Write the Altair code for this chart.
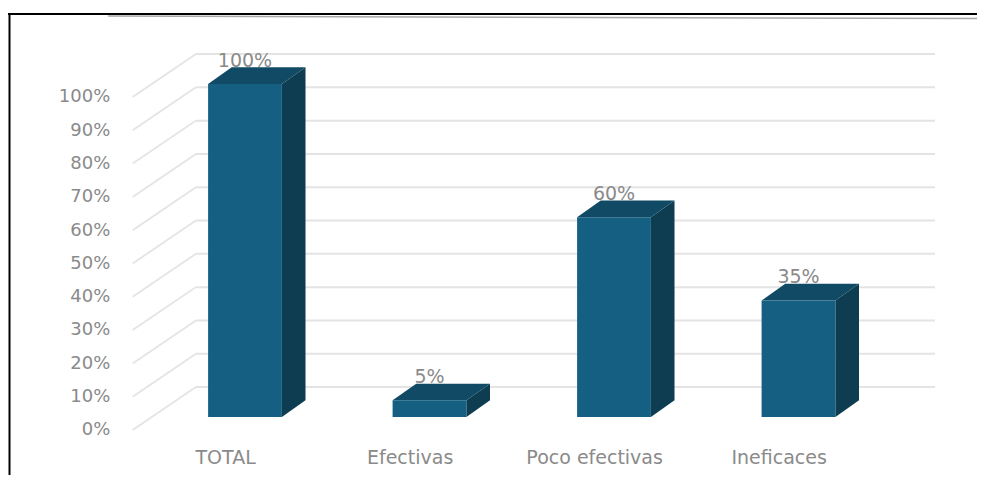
import altair as alt
import pandas as pd

categories = ["TOTAL", "Efectivas", "Poco efectivas", "Ineficaces"]
values = [100, 5, 60, 35]
value_labels = ["100%", "5%", "60%", "35%"]
ticks = [0, 10, 20, 30, 40, 50, 60, 70, 80, 90, 100]
tick_labels = ["0%", "10%", "20%", "30%", "40%", "50%", "60%", "70%", "80%", "90%", "100%"]

W, H = 969, 467
X0_PX, STEP_PX = 237.0, 184.5   # bar centre of first category, category step
Y0_PX, UNIT_PX = 409.0, 3.33    # y of value 0 on the front plane, pixels per percent

x_scale = alt.Scale(domain=[-X0_PX / STEP_PX, (W - X0_PX) / STEP_PX], range=[0, W], nice=False, zero=False)
y_scale = alt.Scale(domain=[-(H - Y0_PX) / UNIT_PX, Y0_PX / UNIT_PX], range=[H, 0], nice=False, zero=False)
X = lambda f="x": alt.X(f"{f}:Q", scale=x_scale, axis=None)
Y = lambda f="y": alt.Y(f"{f}:Q", scale=y_scale, axis=None)

half = 0.2       # half bar width, categories
dx, dy = 0.128, 5.0   # bar depth offset
wall_left, wall_back = -0.609, -0.266
wall_front_dy, wall_back_dy = -3.9, 9.0
wall_right = 3.74

GRID = "#e4e4e4"
FRONT, TOP, SIDE = "#156082", "#114a64", "#0e3d51"
TEXT = "#8a8a8a"
FONT = "DejaVu Sans"

back = pd.DataFrame({"x": wall_back, "x2": wall_right, "y": [t + wall_back_dy for t in ticks]})
diag = pd.DataFrame(
    [{"t": t, "x": wall_left, "y": t + wall_front_dy} for t in ticks]
    + [{"t": t, "x": wall_back, "y": t + wall_back_dy} for t in ticks]
)
front = pd.DataFrame([
    {"x": i - half, "x2": i + half, "y": 0, "y2": v} for i, v in enumerate(values)
])
side, top = [], []
for i, v in enumerate(values):
    l, r = i - half, i + half
    side += [
        {"b": i, "x": r, "y": v, "y2": 0},
        {"b": i, "x": r + dx, "y": v + dy, "y2": dy},
    ]
    top += [
        {"b": i, "x": l, "y": v, "y2": v},
        {"b": i, "x": l + dx, "y": v + dy, "y2": v},
        {"b": i, "x": r, "y": v + dy, "y2": v},
        {"b": i, "x": r + dx, "y": v + dy, "y2": v + dy},
    ]
side, top = pd.DataFrame(side), pd.DataFrame(top)

val_txt = pd.DataFrame({"x": range(4), "y": [v + 6.9 for v in values], "t": value_labels})
cat_txt = pd.DataFrame({"x": [i - 0.105 for i in range(4)], "y": -12.3, "t": categories})
tick_txt = pd.DataFrame({"x": -0.73, "y": [t - 4.0 for t in ticks], "t": tick_labels})

one = pd.DataFrame({"a": [0]})
layers = [
    alt.Chart(back).mark_rule(color=GRID, strokeWidth=2).encode(X(), x2="x2:Q", y=Y()),
    alt.Chart(diag).mark_line(color=GRID, strokeWidth=1.8).encode(X(), Y(), detail="t:N"),
    alt.Chart(side).mark_area(color=SIDE, orient="vertical").encode(X(), Y(), y2="y2:Q", detail="b:N"),
    alt.Chart(top).mark_area(color=TOP, orient="vertical").encode(X(), Y(), y2="y2:Q", detail="b:N"),
    alt.Chart(front).mark_rect(color=FRONT).encode(X(), x2="x2:Q", y=Y(), y2="y2:Q"),
    alt.Chart(val_txt).mark_text(font=FONT, fontSize=19, color=TEXT).encode(X(), Y(), text="t:N"),
    alt.Chart(cat_txt).mark_text(font=FONT, fontSize=19, color=TEXT).encode(X(), Y(), text="t:N"),
    alt.Chart(tick_txt).mark_text(font=FONT, fontSize=18, color=TEXT, align="right").encode(X(), Y(), text="t:N"),
    # frame of the pasted picture
    alt.Chart(one).mark_rule(color="#a8a8a8", strokeWidth=1.5).encode(
        x=alt.value(100), x2=alt.value(W), y=alt.value(8), y2=alt.value(10.5)),
    alt.Chart(one).mark_rule(color="#000000", strokeWidth=2).encode(
        x=alt.value(0), x2=alt.value(W), y=alt.value(6)),
    alt.Chart(one).mark_rule(color="#000000", strokeWidth=2).encode(
        x=alt.value(1.5), y=alt.value(6), y2=alt.value(H)),
]

chart = alt.layer(*layers).properties(width=W, height=H, padding=0, autosize="none", background="white").configure_view(stroke=None)
chart.save("out.html", embed_options={"renderer": "svg", "actions": False})
